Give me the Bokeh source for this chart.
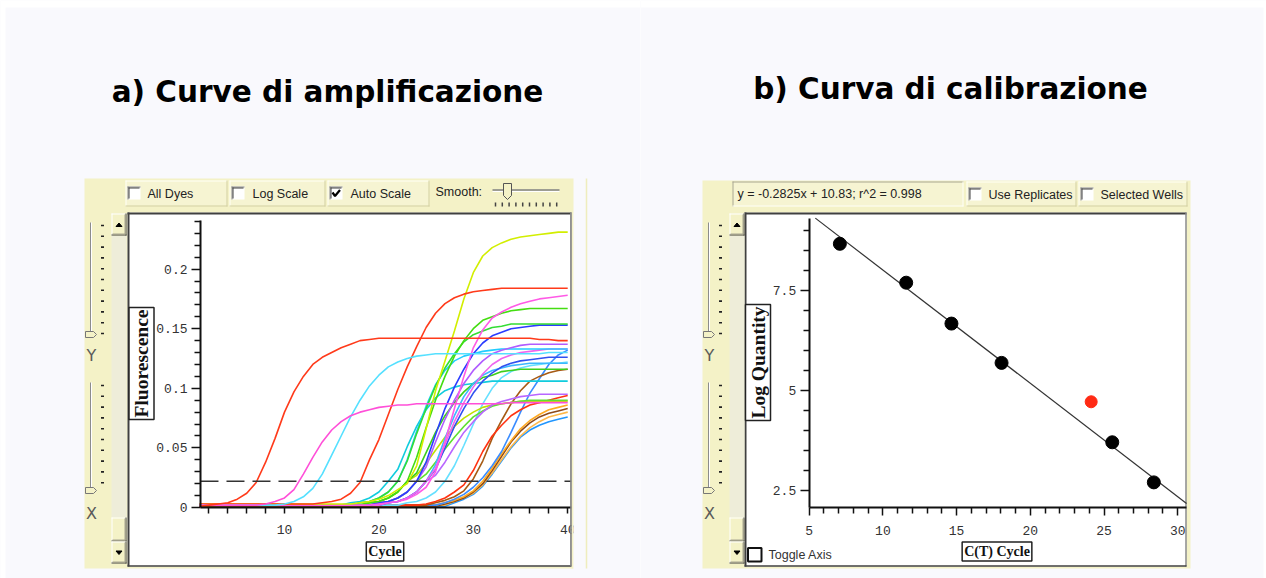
import numpy as np
from bokeh.plotting import figure
from bokeh.models import Range1d, LinearAxis, FixedTicker, Label
from bokeh.layouts import row
from bokeh.embed import file_html
from bokeh.resources import INLINE
from bokeh.core.properties import value

# ------------------------------------------------------------------ data
cycles = [1, 2, 3, 4, 5, 6, 7, 8, 9, 10, 11, 12, 13, 14, 15, 16, 17, 18, 19, 20,
          21, 22, 23, 24, 25, 26, 27, 28, 29, 30, 31, 32, 33, 34, 35, 36, 37, 38, 39, 40]

r1 = [0.001, 0.002, 0.003, 0.004, 0.007, 0.012, 0.021, 0.038, 0.058, 0.080,
      0.097, 0.110, 0.120, 0.126, 0.130, 0.134, 0.137, 0.140, 0.141, 0.142,
      0.142, 0.142, 0.142, 0.142, 0.142, 0.142, 0.142, 0.142, 0.142, 0.142,
      0.142, 0.142, 0.142, 0.142, 0.142, 0.142, 0.141, 0.141, 0.140, 0.140]
m1 = [0.002, 0.002, 0.002, 0.002, 0.002, 0.002, 0.002, 0.003, 0.005, 0.008,
      0.015, 0.028, 0.042, 0.055, 0.065, 0.072, 0.077, 0.080, 0.082, 0.084,
      0.085, 0.086, 0.086, 0.087, 0.087, 0.087, 0.087, 0.087, 0.087, 0.087,
      0.087, 0.087, 0.087, 0.088, 0.088, 0.088, 0.088, 0.088, 0.088, 0.088]
c1 = [0.002, 0.002, 0.002, 0.002, 0.002, 0.002, 0.002, 0.002, 0.002, 0.003,
      0.005, 0.009, 0.016, 0.028, 0.044, 0.060, 0.076, 0.090, 0.102, 0.111,
      0.118, 0.122, 0.125, 0.127, 0.128, 0.129, 0.129, 0.129, 0.129, 0.129,
      0.129, 0.129, 0.129, 0.129, 0.129, 0.129, 0.129, 0.130, 0.130, 0.130]
r2 = [0.003, 0.003, 0.003, 0.003, 0.003, 0.003, 0.003, 0.003, 0.003, 0.003,
      0.003, 0.003, 0.003, 0.004, 0.005, 0.007, 0.012, 0.021, 0.040, 0.057,
      0.078, 0.099, 0.118, 0.135, 0.151, 0.163, 0.171, 0.176, 0.179, 0.181,
      0.182, 0.183, 0.184, 0.184, 0.184, 0.184, 0.184, 0.184, 0.184, 0.184]
yg = [0.003, 0.003, 0.003, 0.003, 0.003, 0.003, 0.003, 0.003, 0.003, 0.003,
      0.003, 0.003, 0.003, 0.003, 0.003, 0.003, 0.003, 0.004, 0.005, 0.007,
      0.010, 0.015, 0.020, 0.035, 0.066, 0.098, 0.123, 0.148, 0.175, 0.197,
      0.211, 0.218, 0.222, 0.225, 0.227, 0.228, 0.229, 0.230, 0.231, 0.231]
m2 = [0.002, 0.002, 0.002, 0.002, 0.002, 0.002, 0.002, 0.002, 0.002, 0.002,
      0.002, 0.002, 0.002, 0.002, 0.002, 0.002, 0.002, 0.002, 0.002, 0.003,
      0.004, 0.005, 0.007, 0.011, 0.017, 0.030, 0.055, 0.083, 0.110, 0.134,
      0.149, 0.159, 0.164, 0.168, 0.171, 0.173, 0.175, 0.176, 0.177, 0.178]
g1 = [0.002, 0.002, 0.002, 0.002, 0.002, 0.002, 0.002, 0.002, 0.002, 0.002,
      0.002, 0.002, 0.002, 0.002, 0.002, 0.002, 0.002, 0.002, 0.004, 0.005,
      0.008, 0.013, 0.022, 0.042, 0.067, 0.090, 0.110, 0.127, 0.140, 0.150,
      0.157, 0.160, 0.163, 0.165, 0.166, 0.167, 0.167, 0.167, 0.167, 0.167]
b1 = [0.002, 0.002, 0.002, 0.002, 0.002, 0.002, 0.002, 0.002, 0.002, 0.002,
      0.002, 0.002, 0.002, 0.002, 0.002, 0.002, 0.002, 0.002, 0.002, 0.004,
      0.005, 0.008, 0.013, 0.022, 0.038, 0.061, 0.083, 0.101, 0.116, 0.129,
      0.138, 0.144, 0.147, 0.150, 0.151, 0.152, 0.153, 0.153, 0.153, 0.153]
g2 = [0.002, 0.002, 0.002, 0.002, 0.002, 0.002, 0.002, 0.002, 0.002, 0.002,
      0.002, 0.002, 0.002, 0.002, 0.002, 0.002, 0.002, 0.004, 0.005, 0.008,
      0.013, 0.022, 0.039, 0.062, 0.083, 0.102, 0.117, 0.129, 0.139, 0.145,
      0.148, 0.151, 0.152, 0.154, 0.154, 0.154, 0.154, 0.154, 0.154, 0.154]
v1 = [0.002, 0.002, 0.002, 0.002, 0.002, 0.002, 0.002, 0.002, 0.002, 0.002,
      0.002, 0.002, 0.002, 0.002, 0.002, 0.002, 0.002, 0.002, 0.002, 0.004,
      0.005, 0.008, 0.013, 0.022, 0.034, 0.055, 0.074, 0.090, 0.104, 0.115,
      0.123, 0.129, 0.132, 0.134, 0.136, 0.137, 0.137, 0.137, 0.137, 0.137]
c2 = [0.002, 0.002, 0.002, 0.002, 0.002, 0.002, 0.002, 0.002, 0.002, 0.002,
      0.002, 0.002, 0.002, 0.002, 0.002, 0.002, 0.002, 0.004, 0.005, 0.008,
      0.013, 0.022, 0.040, 0.064, 0.085, 0.103, 0.115, 0.123, 0.127, 0.129,
      0.131, 0.132, 0.133, 0.133, 0.133, 0.133, 0.133, 0.133, 0.133, 0.133]
b2 = [0.002, 0.002, 0.002, 0.002, 0.002, 0.002, 0.002, 0.002, 0.002, 0.002,
      0.002, 0.002, 0.002, 0.002, 0.002, 0.002, 0.002, 0.002, 0.002, 0.002,
      0.004, 0.005, 0.008, 0.013, 0.022, 0.032, 0.050, 0.068, 0.083, 0.096,
      0.106, 0.113, 0.118, 0.121, 0.123, 0.124, 0.125, 0.126, 0.126, 0.126]
c3 = [0.002, 0.002, 0.002, 0.002, 0.002, 0.002, 0.002, 0.002, 0.002, 0.002,
      0.002, 0.002, 0.002, 0.002, 0.002, 0.002, 0.002, 0.002, 0.002, 0.002,
      0.004, 0.005, 0.008, 0.013, 0.022, 0.036, 0.058, 0.077, 0.093, 0.104,
      0.111, 0.115, 0.117, 0.119, 0.120, 0.121, 0.121, 0.121, 0.121, 0.121]
g3 = [0.002, 0.002, 0.002, 0.002, 0.002, 0.002, 0.002, 0.002, 0.002, 0.002,
      0.002, 0.002, 0.002, 0.002, 0.002, 0.002, 0.002, 0.002, 0.004, 0.005,
      0.008, 0.013, 0.022, 0.029, 0.046, 0.063, 0.077, 0.088, 0.097, 0.104,
      0.109, 0.111, 0.114, 0.115, 0.116, 0.116, 0.116, 0.116, 0.116, 0.116]
c4 = [0.002, 0.002, 0.002, 0.002, 0.002, 0.002, 0.002, 0.002, 0.002, 0.002,
      0.002, 0.002, 0.002, 0.002, 0.002, 0.002, 0.004, 0.005, 0.008, 0.013,
      0.022, 0.032, 0.051, 0.068, 0.082, 0.092, 0.098, 0.101, 0.103, 0.104,
      0.105, 0.106, 0.106, 0.106, 0.106, 0.106, 0.106, 0.106, 0.106, 0.106]
v2 = [0.002, 0.002, 0.002, 0.002, 0.002, 0.002, 0.002, 0.002, 0.002, 0.002,
      0.002, 0.002, 0.002, 0.002, 0.002, 0.002, 0.002, 0.002, 0.002, 0.002,
      0.004, 0.005, 0.008, 0.013, 0.022, 0.027, 0.038, 0.051, 0.063, 0.072,
      0.080, 0.086, 0.089, 0.091, 0.093, 0.094, 0.095, 0.095, 0.095, 0.095]
g4 = [0.002, 0.002, 0.002, 0.002, 0.002, 0.002, 0.002, 0.002, 0.002, 0.002,
      0.002, 0.002, 0.002, 0.002, 0.002, 0.002, 0.002, 0.002, 0.002, 0.004,
      0.005, 0.008, 0.013, 0.022, 0.028, 0.038, 0.049, 0.059, 0.068, 0.076,
      0.081, 0.085, 0.087, 0.088, 0.089, 0.090, 0.090, 0.090, 0.090, 0.090]
y2 = [0.002, 0.002, 0.002, 0.002, 0.002, 0.002, 0.002, 0.002, 0.002, 0.002,
      0.002, 0.002, 0.002, 0.002, 0.002, 0.002, 0.002, 0.002, 0.004, 0.005,
      0.008, 0.013, 0.022, 0.027, 0.037, 0.048, 0.059, 0.068, 0.075, 0.080,
      0.084, 0.086, 0.087, 0.088, 0.089, 0.089, 0.089, 0.089, 0.089, 0.089]
m3 = [0.002, 0.002, 0.002, 0.002, 0.002, 0.002, 0.002, 0.002, 0.002, 0.002,
      0.002, 0.002, 0.002, 0.002, 0.002, 0.002, 0.002, 0.002, 0.002, 0.002,
      0.004, 0.005, 0.008, 0.013, 0.022, 0.033, 0.053, 0.072, 0.088, 0.101,
      0.112, 0.120, 0.125, 0.128, 0.130, 0.131, 0.132, 0.133, 0.133, 0.133]
c5 = [0.002, 0.002, 0.002, 0.002, 0.002, 0.002, 0.002, 0.002, 0.002, 0.002,
      0.002, 0.002, 0.002, 0.002, 0.002, 0.002, 0.002, 0.002, 0.002, 0.002,
      0.002, 0.002, 0.004, 0.005, 0.008, 0.013, 0.022, 0.035, 0.052, 0.070,
      0.087, 0.100, 0.109, 0.114, 0.117, 0.119, 0.120, 0.121, 0.121, 0.122]
r3 = [0.002, 0.002, 0.002, 0.002, 0.002, 0.002, 0.002, 0.002, 0.002, 0.002,
      0.002, 0.002, 0.002, 0.002, 0.002, 0.002, 0.002, 0.002, 0.002, 0.002,
      0.002, 0.002, 0.002, 0.002, 0.003, 0.005, 0.008, 0.013, 0.019, 0.031,
      0.047, 0.060, 0.069, 0.077, 0.082, 0.086, 0.088, 0.090, 0.092, 0.094]
br1 = [0.002, 0.002, 0.002, 0.002, 0.002, 0.002, 0.002, 0.002, 0.002, 0.002,
       0.002, 0.002, 0.002, 0.002, 0.002, 0.002, 0.002, 0.002, 0.002, 0.002,
       0.002, 0.002, 0.002, 0.002, 0.002, 0.004, 0.006, 0.009, 0.014, 0.024,
       0.039, 0.058, 0.073, 0.087, 0.098, 0.106, 0.110, 0.113, 0.115, 0.116]
b5 = [0.002, 0.002, 0.002, 0.002, 0.002, 0.002, 0.002, 0.002, 0.002, 0.002,
      0.002, 0.002, 0.002, 0.002, 0.002, 0.002, 0.002, 0.002, 0.002, 0.002,
      0.002, 0.002, 0.002, 0.002, 0.002, 0.002, 0.004, 0.007, 0.011, 0.017,
      0.025, 0.035, 0.047, 0.063, 0.080, 0.096, 0.108, 0.120, 0.128, 0.132]
o1 = [0.002, 0.002, 0.002, 0.002, 0.002, 0.002, 0.002, 0.002, 0.002, 0.002,
      0.002, 0.002, 0.002, 0.002, 0.002, 0.002, 0.002, 0.002, 0.002, 0.002,
      0.002, 0.002, 0.002, 0.002, 0.002, 0.002, 0.004, 0.006, 0.009, 0.014,
      0.022, 0.033, 0.045, 0.056, 0.066, 0.073, 0.078, 0.082, 0.084, 0.086]
br2 = [0.001, 0.001, 0.001, 0.001, 0.001, 0.001, 0.001, 0.001, 0.001, 0.001,
       0.001, 0.001, 0.001, 0.001, 0.001, 0.001, 0.001, 0.001, 0.001, 0.001,
       0.001, 0.001, 0.001, 0.001, 0.001, 0.001, 0.003, 0.005, 0.008, 0.013,
       0.020, 0.031, 0.043, 0.055, 0.064, 0.071, 0.076, 0.079, 0.081, 0.083]
o2 = [0.002, 0.002, 0.002, 0.002, 0.002, 0.002, 0.002, 0.002, 0.002, 0.002,
      0.002, 0.002, 0.002, 0.002, 0.002, 0.002, 0.002, 0.002, 0.002, 0.002,
      0.002, 0.002, 0.002, 0.002, 0.002, 0.002, 0.002, 0.005, 0.008, 0.012,
      0.019, 0.029, 0.040, 0.051, 0.060, 0.067, 0.072, 0.076, 0.078, 0.080]
b4 = [0.001, 0.001, 0.001, 0.001, 0.001, 0.001, 0.001, 0.001, 0.001, 0.001,
      0.001, 0.001, 0.001, 0.001, 0.001, 0.001, 0.001, 0.001, 0.001, 0.001,
      0.001, 0.001, 0.001, 0.001, 0.001, 0.001, 0.001, 0.004, 0.007, 0.011,
      0.018, 0.028, 0.039, 0.050, 0.059, 0.065, 0.069, 0.072, 0.074, 0.076]

amp_series = [b4, o2, br2, o1, b5, br1, r3, c5, y2, g4, v2, c4, g3, c3, b2,
              m3, c2, v1, b1, g2, g1, m2, yg, r2, c1, m1, r1]
amp_colors = ["#2196ff", "#ffb84a", "#8e4a1a", "#ffaa22", "#3a8cff", "#a65a14",
              "#ff3311", "#66e0ff", "#c0e000", "#5ee030", "#b866ff", "#11ccdd",
              "#3ccf1c", "#3cb8ff", "#3050f0", "#ee66ee", "#22ccff", "#b05cff",
              "#2a3cff", "#33dd33", "#44dd11", "#ff5ae6", "#d2ee00", "#ff3a1a",
              "#55e0ff", "#ff4fd8", "#ff3a1a"]
threshold_level = 0.022
fl_major = [0, 0.05, 0.1, 0.15, 0.2]
fl_minor = [0.01, 0.02, 0.03, 0.04, 0.06, 0.07, 0.08, 0.09, 0.11, 0.12, 0.13, 0.14,
            0.16, 0.17, 0.18, 0.19, 0.21, 0.22, 0.23, 0.24]
fl_labels = {0: "0", 0.05: "0.05", 0.1: "0.1", 0.15: "0.15", 0.2: "0.2"}
cyc_major = [10, 20, 30, 40]
cyc_minor = [2, 4, 6, 8, 12, 14, 16, 18, 22, 24, 26, 28, 32, 34, 36, 38]

ct_std = [7.08, 11.58, 14.65, 18.05, 25.56, 28.38]
logq_std = [8.66, 7.69, 6.67, 5.69, 3.71, 2.71]
ct_unknown = [24.13]
logq_unknown = [4.72]
fit_slope = -0.2825
fit_intercept = 10.83
fit_r2 = 0.998
ct_major = [5, 10, 15, 20, 25, 30]
ct_minor = [6, 7, 8, 9, 11, 12, 13, 14, 16, 17, 18, 19, 21, 22, 23, 24, 26, 27, 28, 29]
lq_major = [2.5, 5, 7.5]
lq_minor = [3, 3.5, 4, 4.5, 5.5, 6, 6.5, 7, 8, 8.5, 9]
lq_labels = {2.5: "2.5", 5: "5", 7.5: "7.5"}

# ------------------------------------------------------------------ styling helpers
LAV = "#f9f9fd"
YEL = "#f4f2c7"
SANS = value("Liberation Sans")
H = 578


def make_fig(x0, x1, w):
    return figure(width=w, height=H, x_range=Range1d(x0, x1), y_range=Range1d(578, 0),
                  x_axis_type=None, y_axis_type=None, toolbar_location=None,
                  output_backend="svg", min_border=0, title_location=None,
                  background_fill_color=LAV, border_fill_color=LAV,
                  outline_line_color=None)


def rect(p, l, r, t, b, fill, line=None, w=1, level="glyph"):
    p.quad(left=[l], right=[r], top=[t], bottom=[b], fill_color=fill,
           line_color=line, line_width=w, level=level)


def hline(p, x0, x1, y, color, w=1, level="glyph"):
    p.segment(x0=[x0], y0=[y], x1=[x1], y1=[y], line_color=color, line_width=w, level=level)


def vline(p, x, y0, y1, color, w=1, level="glyph"):
    p.segment(x0=[x], y0=[y0], x1=[x], y1=[y1], line_color=color, line_width=w, level=level)


def checkbox(p, l, t, s=13, checked=False):
    rect(p, l, l + s, t, t + s, "white")
    hline(p, l, l + s, t + 0.5, "#8a8a8a")
    vline(p, l + 0.5, t, t + s, "#8a8a8a")
    hline(p, l + 1, l + s - 1, t + 1.5, "#404040")
    vline(p, l + 1.5, t + 1, t + s - 1, "#404040")
    if checked:
        p.line(x=[l + 3, l + 5.5, l + 10.5], y=[t + 6, t + 9.5, t + 3.5],
               line_color="black", line_width=2.2)


def button(p, l, r, t, b, arrow=None):
    rect(p, l, r, t, b, YEL)
    hline(p, l, r, t + 0.5, "#ffffff")
    vline(p, l + 0.5, t, b, "#ffffff")
    hline(p, l, r, b - 0.5, "#404040")
    vline(p, r - 0.5, t, b, "#404040")
    hline(p, l + 1, r - 1, b - 1.5, "#a8a690")
    vline(p, r - 1.5, t + 1, b - 1, "#a8a690")
    cx, cy = (l + r) / 2, (t + b) / 2
    if arrow == "up":
        p.patch(x=[cx - 3, cx + 3, cx], y=[cy + 2, cy + 2, cy - 1.5], color="black")
    elif arrow == "down":
        p.patch(x=[cx - 3, cx + 3, cx], y=[cy - 1.5, cy - 1.5, cy + 2], color="black")


def group_box(p, l, r, t, b):
    rect(p, l, r, t, b, "#f6f4d2")
    hline(p, l, r, t + 0.5, "#fffff6")
    vline(p, l + 0.5, t, b, "#fffff6")
    hline(p, l, r, b - 0.5, "#d3d0a0")
    vline(p, r - 0.5, t, b, "#d3d0a0")


def panel_frame(p, pl, pr, pt, pb, wl, wr, wt, wb):
    rect(p, pl, pr, pt, pb, YEL)
    rect(p, wl, wr, wt, wb, "white")
    hline(p, wl, wr, wt + 1, "#404040", 2)
    vline(p, wl + 1, wt, wb, "#404040", 2)
    vline(p, wr - 0.5, wt, wb, "#8a8a8a", 1.5)
    hline(p, wl, wr, wb - 0.5, "#404040", 1.5)


def left_strip(p, x0):
    sx = x0 + 6
    for ya, yb in [(222, 334), (382, 490)]:
        vline(p, sx, ya, yb, "#8c8c8c", 1)
        vline(p, sx + 1, ya, yb, "#ffffff", 1)
        ys = list(np.arange(ya + 3, yb + 1, 10.8))
        p.segment(x0=[x0 + 16.5] * len(ys), y0=ys, x1=[x0 + 19.5] * len(ys), y1=ys,
                  line_color="#222", line_width=1.6)
        p.patch(x=[x0 + 1, x0 + 9, x0 + 12, x0 + 9, x0 + 1],
                y=[yb - 3, yb - 3, yb, yb + 3, yb + 3], fill_color=YEL, line_color="#777")
    p.text(x=[sx + 1, sx + 1], y=[355, 513], text=["Y", "X"], text_font=value("DejaVu Sans"),
           text_font_size="16px", text_color="#5a5a5a", text_align="center",
           text_baseline="middle")
    rect(p, x0 + 27, x0 + 42, 235, 517, "#eeedd9")
    button(p, x0 + 27, x0 + 42, 213, 235, "up")
    button(p, x0 + 27, x0 + 42, 517, 541)
    button(p, x0 + 27, x0 + 42, 541, 563, "down")


def style_axis(ax, maj, mino, standoff):
    ax.axis_line_color = "#111111"
    ax.axis_line_width = 2
    ax.major_tick_out = maj
    ax.major_tick_in = 0
    ax.minor_tick_out = mino
    ax.minor_tick_in = 0
    ax.major_tick_line_color = "#111111"
    ax.minor_tick_line_color = "#111111"
    ax.major_tick_line_width = 1.5
    ax.minor_tick_line_width = 1.5
    ax.major_label_text_font = "Liberation Mono"
    ax.major_label_text_font_size = "13px"
    ax.major_label_text_color = "#333333"
    ax.major_label_standoff = standoff


def boxed_label(p, x, y, text, vertical, size):
    p.add_layout(Label(x=x, y=y, text=text, angle=90 if vertical else 0, angle_units="deg",
                       text_align="center", text_baseline="middle",
                       text_font="Liberation Serif", text_font_style="bold",
                       text_font_size=size, text_color="#111111",
                       border_line_color="#222222", border_line_width=1.5,
                       background_fill_color="white", padding=2))


# ------------------------------------------------------------------ panel a
pL = make_fig(0, 640, 640)
pL.extra_x_ranges = {"cyc": Range1d(-20.085, 47.712)}
pL.extra_y_ranges = {"fl": Range1d(-0.05956, 0.42534)}

rect(pL, 0, 640, 0, 7, "white")
rect(pL, 0, 5, 0, 578, "white")

pL.text(x=[327], y=[91], text=["a) Curve di amplificazione"], text_font=value("DejaVu Sans"),
        text_font_style="bold", text_font_size="29.5px", text_align="center",
        text_baseline="middle", text_color="#000000")

vline(pL, 586, 178, 568, "#efedbd", 1.5)
panel_frame(pL, 84, 573, 178, 568, 127, 571, 212, 566)
left_strip(pL, 84)

for l, r in [(125, 227), (229, 325), (327, 429)]:
    group_box(pL, l, r, 180, 206)
checkbox(pL, 127, 186)
checkbox(pL, 231, 186)
checkbox(pL, 329, 186, checked=True)
pL.text(x=[147, 252, 350, 435], y=[193, 193, 193, 191],
        text=["All Dyes", "Log Scale", "Auto Scale", "Smooth:"], text_font=SANS,
        text_font_size="12.5px", text_color="#222222", text_align="left",
        text_baseline="middle")
hline(pL, 492, 559, 189.5, "#808080", 1.5)
hline(pL, 492, 559, 191, "#ffffff", 1)
pL.patch(x=[503, 511, 511, 507, 503], y=[183, 183, 195, 199, 195], fill_color=YEL,
         line_color="#555555")
dots = [495 + 6.8 * k for k in range(10)]
pL.segment(x0=dots, y0=[202] * 10, x1=dots, y1=[206] * 10, line_color="#444444", line_width=1.5)

x_axis_start, x_axis_end = 1.1, 40.4
y_axis_top = 0.2408

for vals, col in zip(amp_series, amp_colors):
    pL.line(x=cycles, y=vals, line_color=col, line_width=1.6,
            x_range_name="cyc", y_range_name="fl")
pL.line(x=[x_axis_start, x_axis_end], y=[threshold_level, threshold_level],
        line_color="#333333", line_width=1.6, line_dash="18 8",
        x_range_name="cyc", y_range_name="fl")

xa = LinearAxis(x_range_name="cyc", y_range_name="fl", fixed_location=0,
                bounds=(x_axis_start, x_axis_end),
                ticker=FixedTicker(ticks=cyc_major, minor_ticks=cyc_minor))
style_axis(xa, 6, 6, 11)
pL.add_layout(xa, "below")
ya = LinearAxis(x_range_name="cyc", y_range_name="fl", fixed_location=x_axis_start,
                bounds=(0, y_axis_top),
                ticker=FixedTicker(ticks=fl_major, minor_ticks=fl_minor))
style_axis(ya, 9, 6, 4)
ya.major_label_overrides = fl_labels
pL.add_layout(ya, "left")

# right edge of the plotting window hides part of the last tick label
rect(pL, 571, 573, 212, 568, YEL, level="overlay")
vline(pL, 570.5, 212, 566, "#8a8a8a", 1.5, level="overlay")
rect(pL, 573, 584, 212, 568, LAV, level="overlay")

boxed_label(pL, 141, 363, "Fluorescence", True, "19.5px")
boxed_label(pL, 384.5, 551, "Cycle", False, "14px")

# ------------------------------------------------------------------ panel b
pR = make_fig(640, 1266, 626)
pR.extra_x_ranges = {"ct": Range1d(-6.445, 36.024)}
pR.extra_y_ranges = {"lq": Range1d(0.313, 14.727)}

rect(pR, 640, 1266, 0, 7, "white")
rect(pR, 1263, 1266, 0, 578, "white")

pR.text(x=[950], y=[88], text=["b) Curva di calibrazione"], text_font=value("DejaVu Sans"),
        text_font_style="bold", text_font_size="29.5px", text_align="center",
        text_baseline="middle", text_color="#000000")

panel_frame(pR, 702, 1190, 180, 568, 744, 1186, 212, 566)
left_strip(pR, 702)

rect(pR, 732, 963, 181, 206, "#f6f4d2")
hline(pR, 732, 963, 181.5, "#a8a690")
vline(pR, 732.5, 181, 206, "#a8a690")
hline(pR, 732, 963, 205.5, "#fffff6")
vline(pR, 962.5, 181, 206, "#fffff6")
group_box(pR, 966, 1076, 181, 206)
group_box(pR, 1078, 1187, 181, 206)
checkbox(pR, 968, 187)
checkbox(pR, 1080, 187)
eq_text = f"y = {fit_slope}x + {fit_intercept};  r^2 = {fit_r2}"
pR.text(x=[737, 988, 1100], y=[193, 194, 194],
        text=[eq_text, "Use Replicates", "Selected Wells"], text_font=SANS,
        text_font_size="12.5px", text_color="#222222", text_align="left",
        text_baseline="middle")

rect(pR, 747.5, 761, 547.5, 561, "white", "#111111", 2)
pR.text(x=[768], y=[554], text=["Toggle Axis"], text_font=SANS, text_font_size="12.5px",
        text_color="#333333", text_align="left", text_baseline="middle")

ct_axis_start, ct_axis_end = 5, 30.6
lq_axis_floor, lq_axis_top = 2.076, 9.3

fit_x = [(lq_axis_top - fit_intercept) / fit_slope, ct_axis_end]
fit_y = [fit_slope * v + fit_intercept for v in fit_x]
pR.line(x=fit_x, y=fit_y, line_color="#333333", line_width=1.2,
        x_range_name="ct", y_range_name="lq")
pR.scatter(x=ct_std, y=logq_std, size=13, color="#000000",
           x_range_name="ct", y_range_name="lq")
pR.scatter(x=ct_unknown, y=logq_unknown, size=12, color="#ff2a14",
           x_range_name="ct", y_range_name="lq")

xb = LinearAxis(x_range_name="ct", y_range_name="lq", fixed_location=lq_axis_floor,
                bounds=(ct_axis_start, ct_axis_end),
                ticker=FixedTicker(ticks=ct_major, minor_ticks=ct_minor))
style_axis(xb, 8, 6, 10)
pR.add_layout(xb, "below")
yb = LinearAxis(x_range_name="ct", y_range_name="lq", fixed_location=ct_axis_start,
                bounds=(lq_axis_floor, lq_axis_top),
                ticker=FixedTicker(ticks=lq_major, minor_ticks=lq_minor))
style_axis(yb, 9, 6, 4)
yb.major_label_overrides = lq_labels
pR.add_layout(yb, "left")

boxed_label(pR, 757.5, 362, "Log Quantity", True, "19.5px")
boxed_label(pR, 996.5, 551, "C(T) Cycle", False, "14px")

layout = row(pL, pR)
open("out.html", "w").write(file_html(layout, INLINE))
